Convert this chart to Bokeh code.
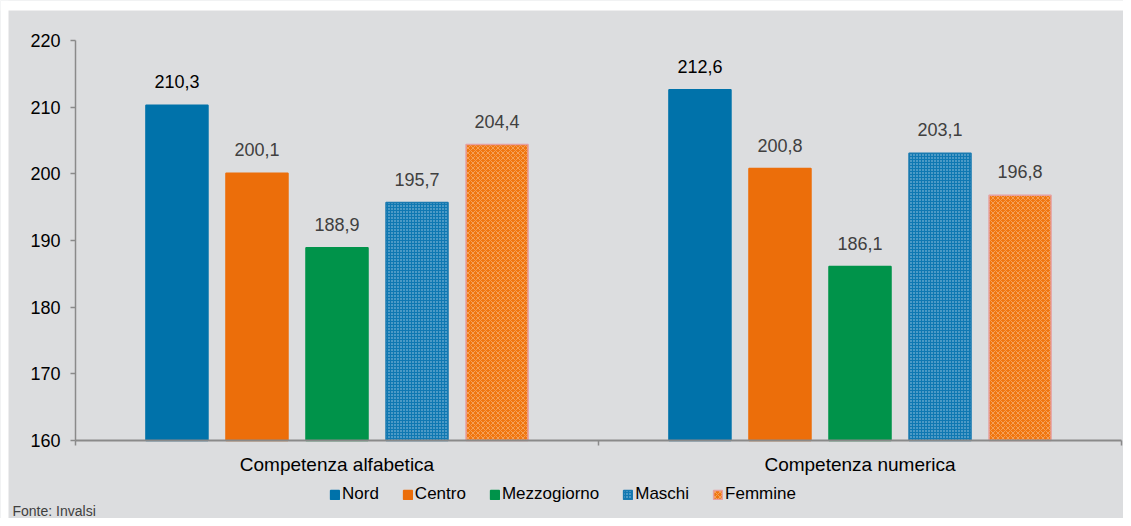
from bokeh.plotting import figure
from bokeh.models import (ColumnDataSource, FixedTicker, Legend, LegendItem, Label,
                          LinearAxis, BoxAnnotation)
from bokeh.core.properties import value
from bokeh.transform import dodge
from bokeh.embed import file_html
from bokeh.resources import INLINE

categories = ["Competenza alfabetica", "Competenza numerica"]
series = ["Nord", "Centro", "Mezzogiorno", "Maschi", "Femmine"]
nord = [210.3, 212.6]
centro = [200.1, 200.8]
mezzogiorno = [188.9, 186.1]
maschi = [195.7, 203.1]
femmine = [204.4, 196.8]
y_ticks = [160, 170, 180, 190, 200, 210, 220]

BG = "#DCDDDF"
FONT = "Liberation Sans"
W, H = 1123, 518
# pixel layout of the plotting area (from top-left of the canvas)
X0, X1 = 75, 1121
Y_TOP, Y_BOT = 40, 440
YMIN, YMAX = 160, 220
NX = len(categories)

def fmt(v):
    return f"{v:.1f}".replace(".", ",")

sx = NX / (X1 - X0)
sy = (YMAX - YMIN) / (Y_BOT - Y_TOP)
x_start = 0 - X0 * sx
x_end = NX + (W - X1) * sx
y_end = YMAX + Y_TOP * sy
y_start = YMIN - (H - Y_BOT) * sy

xpos = [i + 0.5 for i in range(NX)]
data = dict(x=xpos)
for name, vals in zip(series, [nord, centro, mezzogiorno, maschi, femmine]):
    data[name] = vals
    data[name + "_lbl"] = [fmt(v) for v in vals]
src = ColumnDataSource(data)

p = figure(width=W, height=H, x_range=(x_start, x_end), y_range=(y_start, y_end),
           output_backend="svg", toolbar_location=None,
           x_axis_location=None, y_axis_location=None,
           min_border=0)
p.background_fill_color = BG
p.border_fill_color = BG
p.outline_line_color = None
p.xgrid.grid_line_color = None
p.ygrid.grid_line_color = None

# white page strips (top and left) as in the source image
p.add_layout(BoxAnnotation(left=x_start, right=x_end, top=y_end, bottom=y_end - 10 * sy,
                           fill_color="white", fill_alpha=1, line_color=None, level="underlay"))
p.add_layout(BoxAnnotation(left=x_start, right=x_start + 8 * sx, top=y_end, bottom=y_start,
                           fill_color="white", fill_alpha=1, line_color=None, level="underlay"))

styles = {
    "Nord": dict(fill_color="#0072AA", line_color="#0072AA"),
    "Centro": dict(fill_color="#EC6E0A", line_color="#EC6E0A"),
    "Mezzogiorno": dict(fill_color="#00934A", line_color="#00934A"),
    "Maschi": dict(fill_color="#0F78B2", line_color="#1A7AB0", hatch_pattern="dot",
                   hatch_color="#E8F2F8", hatch_scale=3, hatch_weight=1.2, hatch_alpha=0.7),
    "Femmine": dict(fill_color="#F07610", line_color="#E6A0A0", hatch_pattern="diagonal_cross",
                    hatch_color="#FCE0C4", hatch_scale=5, hatch_weight=1.0, hatch_alpha=0.4),
}
offsets = [-0.306, -0.153, 0.0, 0.153, 0.306]
label_colors = {"Nord": "#000000", "Centro": "#404040", "Mezzogiorno": "#404040",
                "Maschi": "#404040", "Femmine": "#404040"}

items = []
for name, off in zip(series, offsets):
    r = p.vbar(x=dodge("x", off, range=p.x_range), top=name, bottom=YMIN, width=0.1186,
               source=src, line_width=1.5, **styles[name])
    items.append(LegendItem(label=name, renderers=[r]))
    p.text(x=dodge("x", off, range=p.x_range), y=name, text=name + "_lbl", source=src,
           text_align="center", text_baseline="bottom", y_offset=-17,
           text_font_size="18px", text_color=label_colors[name], text_font=value(FONT))

# axes
yax = LinearAxis(fixed_location=0, bounds=(YMIN, YMAX), ticker=FixedTicker(ticks=y_ticks),
                 axis_line_color="#8A8A8A", axis_line_width=1.5,
                 major_tick_line_color="#8A8A8A", major_tick_line_width=1.5,
                 major_tick_out=5, major_tick_in=0, minor_tick_line_color=None,
                 major_label_text_font=FONT, major_label_text_font_size="18px",
                 major_label_text_color="#000000", major_label_standoff=10)
p.add_layout(yax, "left")

xax = LinearAxis(fixed_location=YMIN, bounds=(0, NX),
                 ticker=FixedTicker(ticks=xpos, minor_ticks=list(range(NX + 1))),
                 major_label_overrides={x: c for x, c in zip(xpos, categories)},
                 axis_line_color="#8A8A8A", axis_line_width=2,
                 major_tick_line_color=None,
                 minor_tick_line_color="#8A8A8A", minor_tick_line_width=1.5,
                 minor_tick_out=5, minor_tick_in=0,
                 major_label_text_font=FONT, major_label_text_font_size="19px",
                 major_label_text_color="#000000", major_label_standoff=7)
p.add_layout(xax, "below")

legend = Legend(items=items, orientation="horizontal", location=(329, 14),
                glyph_width=11, glyph_height=11, label_standoff=2, spacing=23,
                padding=0, margin=0, border_line_color=None, background_fill_alpha=0,
                label_text_font=FONT, label_text_font_size="17px", label_text_color="#000000")
p.add_layout(legend)

p.add_layout(Label(x=12, y=0, x_units="screen", y_units="screen", text="Fonte: Invalsi",
                   text_font=FONT, text_font_size="14px", text_color="#404040",
                   text_baseline="bottom"))

open("out.html", "w").write(file_html(p, INLINE))
